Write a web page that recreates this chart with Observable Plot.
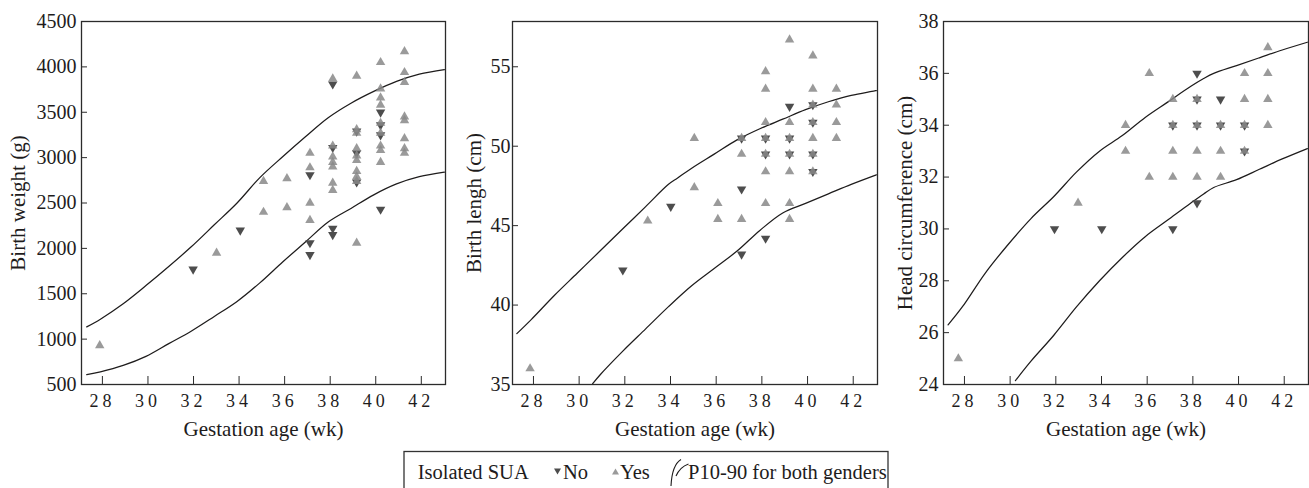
<!DOCTYPE html>
<html><head><meta charset="utf-8">
<script src="https://cdn.jsdelivr.net/npm/d3@7"></script>
<script src="https://cdn.jsdelivr.net/npm/@observablehq/plot@0.6"></script>
<style>
body{margin:0;background:#fff;}
#wrap{position:relative;width:1309px;height:488px;overflow:hidden;font-family:"Liberation Serif","Times New Roman",serif;}
#wrap > svg{position:absolute;top:0;}
#wrap g[aria-label="x-axis tick label"]{letter-spacing:4px;}
</style></head><body><div id="wrap"></div>
<script>
// ---------- data ----------
const xTicks = [28, 30, 32, 34, 36, 38, 40, 42];
const weightTicks = [500, 1000, 1500, 2000, 2500, 3000, 3500, 4000, 4500];
const lengthTicks = [35, 40, 45, 50, 55];
const headTicks = [24, 26, 28, 30, 32, 34, 36, 38];

// Birth weight (g)
const weightYes = [[27.97,930],[33.1,1950],[35.16,2740],[35.16,2400],[36.19,2770],[36.19,2450],
  [37.2,3050],[37.2,2890],[37.2,2500],[37.2,2310],
  [38.2,3870],[38.2,3130],[38.2,3010],[38.2,2950],[38.2,2900],[38.2,2720],[38.2,2640],
  [39.25,3900],[39.25,3310],[39.25,3270],[39.25,3100],[39.25,3020],[39.25,2970],[39.25,2850],[39.25,2790],[39.25,2740],[39.25,2060],
  [40.3,4050],[40.3,3760],[40.3,3660],[40.3,3580],[40.3,3380],[40.3,3270],[40.3,3130],[40.3,3080],[40.3,2950],
  [41.35,4170],[41.35,3940],[41.35,3830],[41.35,3450],[41.35,3410],[41.35,3210],[41.35,3100],[41.35,3050]];
const weightNo = [[32.07,1770],[34.14,2200],[37.2,2810],[37.2,2060],[37.2,1930],
  [38.2,3810],[38.2,3110],[38.2,2220],[38.2,2150],
  [39.25,3290],[39.25,3050],[39.25,2730],
  [40.3,3500],[40.3,3360],[40.3,3250],[40.3,2430]];
const weightP90 = [[27.4,1135],[28,1220],[29,1390],[30,1590],[31,1800],[32,2020],[33,2260],[34,2500],[35,2780],[36,3010],[37,3230],[38,3440],[39,3600],[40,3730],[41,3840],[42,3920],[43.1,3970]];
const weightP10 = [[27.4,610],[28,640],[29,710],[30,810],[31,950],[32,1090],[33,1250],[34,1415],[35,1620],[36,1850],[37,2070],[38,2290],[39,2440],[40,2590],[41,2710],[42,2790],[43.1,2840]];

// Birth length (cm)
const lengthYes = [[27.94,36.0],[33.09,45.3],[35.13,50.5],[35.13,47.4],[36.16,46.4],[36.16,45.4],
  [37.2,50.5],[37.2,49.5],[37.2,45.4],
  [38.25,54.7],[38.25,53.6],[38.25,51.5],[38.25,50.5],[38.25,49.5],[38.25,48.4],[38.25,46.4],
  [39.3,56.7],[39.3,51.5],[39.3,50.5],[39.3,49.5],[39.3,48.4],[39.3,46.4],[39.3,45.4],
  [40.32,55.7],[40.32,53.6],[40.32,52.6],[40.32,51.5],[40.32,50.5],[40.32,49.5],[40.32,48.4],
  [41.35,53.6],[41.35,52.6],[41.35,51.5],[41.35,50.5]];
const lengthNo = [[32.0,42.2],[34.1,46.2],[37.2,50.5],[37.2,47.3],[37.2,43.2],
  [38.25,50.5],[38.25,49.5],[38.25,44.2],
  [39.3,52.5],[39.3,50.5],[39.3,49.5],
  [40.32,52.6],[40.32,51.5],[40.32,49.5],[40.32,48.4]];
const lengthP90 = [[27.36,38.2],[28,39.1],[29,40.6],[30,42.0],[31,43.4],[32,44.8],[33,46.2],[34,47.6],[34.4,48.0],[35,48.6],[36,49.5],[37,50.4],[38,51.1],[39,51.7],[40,52.3],[41,52.8],[42,53.2],[43.1,53.5]];
const lengthP10 = [[30.68,35.05],[31,35.6],[32,37.1],[33,38.5],[34,39.9],[35,41.2],[36,42.3],[37,43.4],[38,44.7],[39,45.8],[40,46.4],[41,47.0],[42,47.6],[43.1,48.2]];

// Head circumference (cm)
const headYes = [[27.82,25],[33.06,31],[35.14,34],[35.14,33],[36.18,36],[36.18,32],
  [37.21,35],[37.21,34],[37.21,33],[37.21,32],
  [38.27,35],[38.27,34],[38.27,33],[38.27,32],
  [39.3,34],[39.3,33],[39.3,32],
  [40.35,36],[40.35,35],[40.35,34],[40.35,33],
  [41.37,37],[41.37,36],[41.37,35],[41.37,34]];
const headNo = [[32.03,30],[34.1,30],[37.21,34],[37.21,30],
  [38.27,36],[38.27,35],[38.27,34],[38.27,31],
  [39.3,35],[39.3,34],[40.35,34],[40.35,33]];
const headP90 = [[27.37,26.3],[28,27.0],[29,28.3],[30,29.4],[31,30.4],[32,31.25],[33,32.2],[34,33.0],[35,33.6],[36,34.3],[37,34.9],[38,35.5],[38.56,35.8],[39,36.0],[40,36.3],[41,36.6],[42,36.9],[43.1,37.2]];
const headP10 = [[30.32,24.15],[31,24.9],[32,25.9],[33,27.0],[34,28.0],[35,28.9],[36,29.7],[37,30.35],[38,31.0],[38.56,31.35],[39,31.6],[40,31.9],[41,32.3],[42,32.7],[43.1,33.1]];

const xLabel = "Gestation age (wk)";

// ---------- drawing ----------
const ink = "#1e1c1c";
const noColor = "#4d4d4d";
const yesColor = "#888888";
const triDown = {draw(ctx, size) {
  const y = -Math.sqrt(size / (Math.sqrt(3) * 3));
  ctx.moveTo(0, -y * 2);
  ctx.lineTo(Math.sqrt(3) * y, y);
  ctx.lineTo(-Math.sqrt(3) * y, y);
  ctx.closePath();
}};

function panel({left, width, marginLeft, yDomain, yTicks, yLabel, labelDx, tickPad, yes, no, p10, p90}) {
  const chart = Plot.plot({
    width, height: 445,
    marginLeft, marginRight: 1, marginTop: 21, marginBottom: 61,
    style: {fontFamily: '"Liberation Serif","Times New Roman",serif', fontSize: "20px", color: ink, background: "transparent", overflow: "visible"},
    x: {domain: [27.17, 43.15]},
    y: {domain: yDomain},
    marks: [
      Plot.line(p90, {x: d => d[0], y: d => d[1], curve: "catmull-rom", stroke: ink, strokeWidth: 1.25}),
      Plot.line(p10, {x: d => d[0], y: d => d[1], curve: "catmull-rom", stroke: ink, strokeWidth: 1.25}),
      Plot.dot(no, {x: d => d[0], y: d => d[1], symbol: triDown, r: 3.5, fill: noColor, stroke: "none"}),
      Plot.dot(yes, {x: d => d[0], y: d => d[1], symbol: "triangle", r: 3.5, fill: yesColor, fillOpacity: 0.85, stroke: "none"}),
      Plot.frame({stroke: "#2b2b2b", strokeWidth: 1.3}),
      Plot.axisY({ticks: yTicks, tickSize: -6, tickPadding: tickPad, label: null, tickFormat: d => String(d), fontSize: 20, stroke: "#2b2b2b"}),
      Plot.axisX({ticks: xTicks, tickSize: -8, tickPadding: 17.3, label: null, tickFormat: d => String(d), fontSize: 18, dx: 2, stroke: "#2b2b2b"}),
      Plot.text([yLabel], {frameAnchor: "left", textAnchor: "middle", rotate: -90, dx: labelDx, lineAnchor: "bottom", fontSize: 21}),
      Plot.text([xLabel], {frameAnchor: "bottom", textAnchor: "middle", dy: 51, lineAnchor: "bottom", fontSize: 21})
    ]
  });
  chart.style.left = left + "px";
  document.getElementById("wrap").appendChild(chart);
}

panel({left: 0, width: 446, marginLeft: 81, yDomain: [500, 4500], yTicks: weightTicks, yLabel: "Birth weight (g)", labelDx: -56.5, tickPad: 11, yes: weightYes, no: weightNo, p10: weightP10, p90: weightP90});
panel({left: 446, width: 432, marginLeft: 66, yDomain: [35, 57.85], yTicks: lengthTicks, yLabel: "Birth lengh (cm)", labelDx: -31.7, tickPad: 8, yes: lengthYes, no: lengthNo, p10: lengthP10, p90: lengthP90});
panel({left: 878, width: 431, marginLeft: 65, yDomain: [24, 38], yTicks: headTicks, yLabel: "Head circumference (cm)", labelDx: -32, tickPad: 11, yes: headYes, no: headNo, p10: headP10, p90: headP90});

// ---------- legend ----------
const legendItems = ["Isolated SUA", "No", "Yes", "P10-90 for both genders"];
const NS = "http://www.w3.org/2000/svg";
const lg = document.createElementNS(NS, "svg");
lg.setAttribute("width", 1309); lg.setAttribute("height", 488);
lg.style.left = "0px";
lg.innerHTML = `
 <rect x="404" y="451.5" width="484" height="50" fill="none" stroke="#333" stroke-width="1.3"/>
 <g font-family='"Liberation Serif","Times New Roman",serif' font-size="20.5" fill="${ink}">
  <text x="417.7" y="479">${legendItems[0]}</text>
  <path d="M554,468.5 L561,468.5 L557.5,474.5 Z" fill="${noColor}"/>
  <text x="563" y="479">${legendItems[1]}</text>
  <path d="M612,474.5 L619,474.5 L615.5,468.5 Z" fill="${yesColor}" fill-opacity="0.85"/>
  <text x="620" y="479">${legendItems[2]}</text>
  <path d="M681,459.5 Q672,465 671,486" fill="none" stroke="${ink}" stroke-width="1.1"/>
  <path d="M688.5,464 Q680,467 676,476" fill="none" stroke="${ink}" stroke-width="1.1"/>
  <text x="688" y="479">${legendItems[3]}</text>
 </g>`;
document.getElementById("wrap").appendChild(lg);
</script>
</body></html>
